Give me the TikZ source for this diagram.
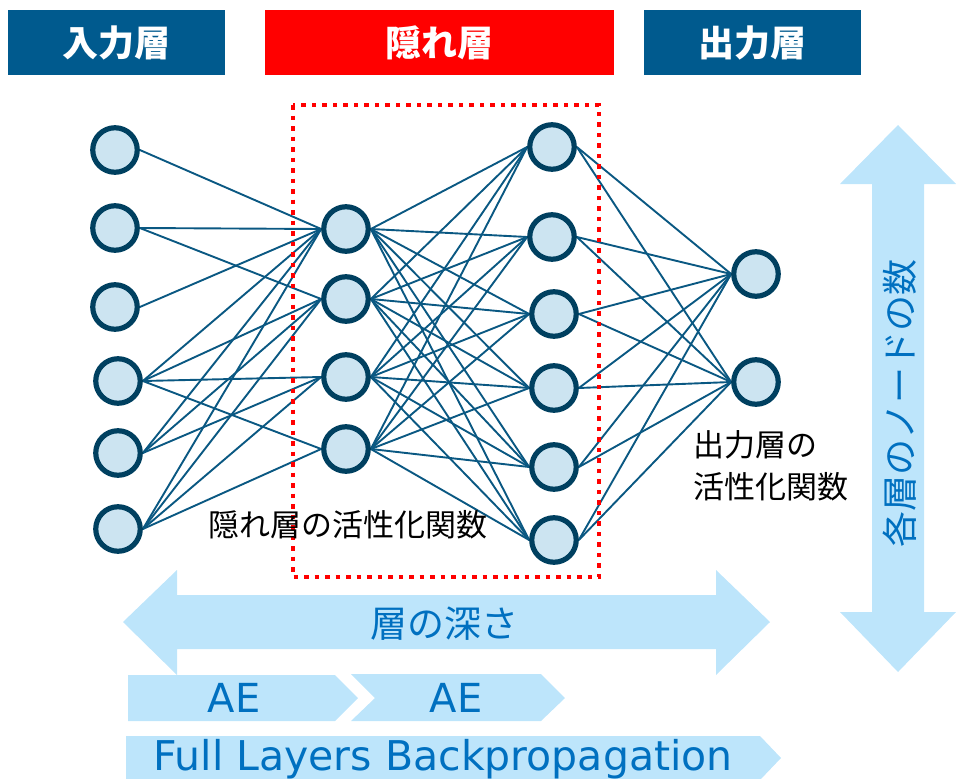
\documentclass[tikz,border=0pt]{standalone}
\usepackage{fontspec}
\setmainfont{DejaVu Sans}
\newfontfamily\jp{Noto Sans CJK JP}
\usetikzlibrary{backgrounds}
\definecolor{hdrblue}{RGB}{0,90,142}
\definecolor{hdrred}{RGB}{255,0,0}
\definecolor{nodefill}{RGB}{204,228,241}
\definecolor{nodeline}{RGB}{0,64,96}
\definecolor{edgec}{RGB}{10,88,130}
\definecolor{arrowfill}{RGB}{189,229,251}
\definecolor{arrowtext}{RGB}{0,112,192}
\begin{document}
\begin{tikzpicture}[x=1pt,y=-1pt,
  nd/.style={circle,draw=nodeline,fill=nodefill,line width=5.2pt,minimum size=44.5pt,inner sep=0pt},
  edge/.style={draw=edgec,line width=1.9pt},
  hdr/.style={text=white,font=\jp\bfseries\fontsize{36}{40}\selectfont,inner sep=0pt},
  lbl/.style={text=black,font=\jp\fontsize{31}{42}\selectfont,inner sep=0pt},
  arrtxt/.style={text=arrowtext,inner sep=0pt},
  bigarrow/.style={fill=arrowfill}]
\useasboundingbox (0,0) rectangle (956,779);
% header boxes
\fill[hdrblue] (8,10) rectangle (225,75);
\fill[hdrred] (265,10) rectangle (614,75);
\fill[hdrblue] (644,10) rectangle (861,75);
\node[hdr] (h1) at (116.5,43) {入力層};
\node[hdr] (h2) at (439.5,43) {隠れ層};
\node[hdr] (h3) at (752.5,43) {出力層};
% nodes
\node[nd] (I1) at (115,150) {};
\node[nd] (I2) at (115,228) {};
\node[nd] (I3) at (115,307) {};
\node[nd] (I4) at (118,381) {};
\node[nd] (I5) at (118,453) {};
\node[nd] (I6) at (118,529) {};
\node[nd] (H1) at (346,229) {};
\node[nd] (H2) at (346,299) {};
\node[nd] (H3) at (346,377) {};
\node[nd] (H4) at (346,449) {};
\node[nd] (G1) at (552,147) {};
\node[nd] (G2) at (552,237) {};
\node[nd] (G3) at (554,314) {};
\node[nd] (G4) at (554,388) {};
\node[nd] (G5) at (554,467) {};
\node[nd] (G6) at (554,540) {};
\node[nd] (O1) at (756,274) {};
\node[nd] (O2) at (756,382) {};
\begin{pgfonlayer}{background}
\foreach \a/\b in {I1/H1,I2/H1,I2/H2,I3/H1,I4/H1,I4/H2,I4/H3,I4/H4,I5/H1,I5/H2,I5/H3,I6/H1,I6/H2,I6/H3,I6/H4}
  \draw[edge] (\a.east) -- (\b.west);
\foreach \a in {H1,H2,H3,H4}
  \foreach \b in {G1,G2,G3,G4,G5,G6}
    \draw[edge] (\a.east) -- (\b.west);
\foreach \a in {G1,G2,G3,G4,G5,G6}
  \foreach \b in {O1,O2}
    \draw[edge] (\a.east) -- (\b.west);
\end{pgfonlayer}
% red dotted frame
\draw[hdrred,line width=4.5pt,dash pattern=on 4.5pt off 6pt] (293,105) rectangle (599,577);
% labels
\node[lbl,anchor=west] (lh) at (208,525) {隠れ層の活性化関数};
\node[lbl,anchor=west] (lo1) at (693,445) {出力層の};
\node[lbl,anchor=west] (lo2) at (693,487) {活性化関数};
% horizontal double arrow
\fill[bigarrow] (123,622) -- (177,570) -- (177,595) -- (716,595) -- (716,570) -- (770,622) -- (716,675) -- (716,649) -- (177,649) -- (177,675) -- cycle;
\node[arrtxt,font=\jp\fontsize{37}{40}\selectfont] (depth) at (444,624) {層の深さ};
% vertical double arrow
\fill[bigarrow] (898,125) -- (956,184) -- (924,184) -- (924,612) -- (956,612) -- (898,672) -- (840,612) -- (872,612) -- (872,184) -- (840,184) -- cycle;
\node[arrtxt,font=\jp\fontsize{36}{40}\selectfont,rotate=90] (count) at (900,403) {各層のノードの数};
% AE chevrons
\fill[bigarrow] (128,675) -- (335,675) -- (358,698) -- (335,721) -- (128,721) -- cycle;
\fill[bigarrow] (351,674) -- (541,674) -- (565,698) -- (541,721) -- (351,721) -- (375,698) -- cycle;
\node[arrtxt,font=\fontsize{40}{44}\selectfont] (ae1) at (234,698) {AE};
\node[arrtxt,font=\fontsize{40}{44}\selectfont] (ae2) at (456,698) {AE};
% full layers
\fill[bigarrow] (126,736) -- (760,736) -- (781,758) -- (760,780) -- (126,780) -- cycle;
\node[arrtxt,font=\fontsize{41}{44}\selectfont] (full) at (443,759) {Full Layers Backpropagation};
\end{tikzpicture}
\end{document}
